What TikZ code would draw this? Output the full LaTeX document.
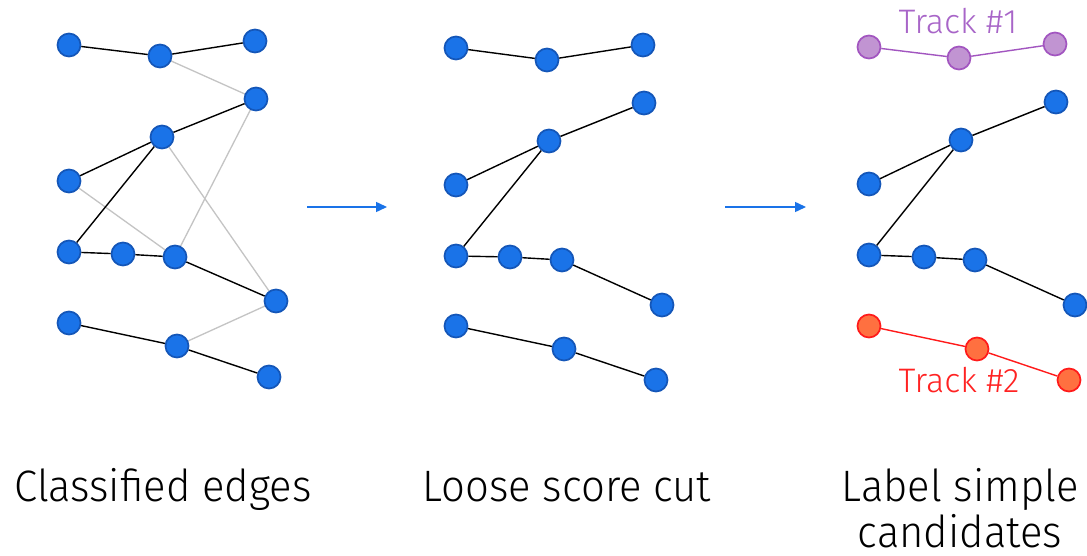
\documentclass[tikz,border=0pt]{standalone}
\usepackage{fontspec}
\setmainfont{Fira Sans}[UprightFont={* Light}]
\usetikzlibrary{arrows.meta}
\definecolor{nblue}{HTML}{1A73E8}
\definecolor{nblueb}{HTML}{1456B8}
\definecolor{npurp}{HTML}{C194D2}
\definecolor{npurpb}{HTML}{A255C0}
\definecolor{nred}{HTML}{FF7040}
\definecolor{nredb}{HTML}{FF1A1A}
\definecolor{tpurp}{HTML}{A865C8}
\definecolor{tred}{HTML}{FF2222}
\definecolor{gedge}{HTML}{C4C4C4}
\tikzset{
  hit/.style={circle,minimum size=23pt,inner sep=0pt,fill=nblue,draw=nblueb,line width=1.7pt},
  phit/.style={hit,fill=npurp,draw=npurpb},
  rhit/.style={hit,fill=nred,draw=nredb},
  good/.style={black,line width=1.4pt},
  bad/.style={gedge,line width=1.3pt},
  ptrk/.style={npurpb,line width=1.4pt},
  rtrk/.style={nredb,line width=1.4pt},
  flow/.style={nblue,line width=1.5pt,-{Triangle[length=11pt,width=10pt]}},
  captxt/.style={font=\fontsize{44}{50}\selectfont,inner sep=0pt,anchor=base,xscale=0.95,transform shape},
  tlab/.style={font=\fontsize{34}{38}\selectfont,inner sep=0pt,anchor=base,transform shape}
}
\begin{document}
\begin{tikzpicture}[x=1pt,y=-1pt]
\useasboundingbox[fill=white] (0,0) rectangle (1087,556);
% panel 1
\draw[bad] (160,56) -- (256,99) -- (175,257);
\draw[bad] (162,137) -- (276,301) -- (177,346);
\draw[bad] (69,181) -- (175,257);
\node[hit] (a1) at (69,45) {};
\node[hit] (a2) at (160,56) {};
\node[hit] (a3) at (255,41) {};
\node[hit] (b1) at (256,99) {};
\node[hit] (c1) at (162,137) {};
\node[hit] (d1) at (69,181) {};
\node[hit] (e1) at (69,252) {};
\node[hit] (e2) at (123,254) {};
\node[hit] (e3) at (175,257) {};
\node[hit] (f1) at (276,301) {};
\node[hit] (g1) at (69,323) {};
\node[hit] (g2) at (177,346) {};
\node[hit] (g3) at (269,377) {};
\draw[good] (a1) -- (a2) -- (a3);
\draw[good] (b1) -- (c1) -- (d1);
\draw[good] (c1) -- (e1) -- (e2) -- (e3) -- (f1);
\draw[good] (g1) -- (g2) -- (g3);
% panel 2
\node[hit] (pa1) at (456,48) {};
\node[hit] (pa2) at (547,60) {};
\node[hit] (pa3) at (643,45) {};
\node[hit] (pb1) at (644,103) {};
\node[hit] (pc1) at (549,141) {};
\node[hit] (pd1) at (456,185) {};
\node[hit] (pe1) at (456,256) {};
\node[hit] (pe2) at (510,257) {};
\node[hit] (pe3) at (562,260) {};
\node[hit] (pf1) at (662,305) {};
\node[hit] (pg1) at (456,326) {};
\node[hit] (pg2) at (564,349) {};
\node[hit] (pg3) at (656,380) {};
\draw[good] (pa1) -- (pa2) -- (pa3);
\draw[good] (pb1) -- (pc1) -- (pd1);
\draw[good] (pc1) -- (pe1) -- (pe2) -- (pe3) -- (pf1);
\draw[good] (pg1) -- (pg2) -- (pg3);
% panel 3
\node[phit] (qa1) at (869,47) {};
\node[phit] (qa2) at (959,58) {};
\node[phit] (qa3) at (1055,44) {};
\node[hit] (qb1) at (1056,102) {};
\node[hit] (qc1) at (961,140) {};
\node[hit] (qd1) at (869,184) {};
\node[hit] (qe1) at (869,255) {};
\node[hit] (qe2) at (924,257) {};
\node[hit] (qe3) at (975,260) {};
\node[hit] (qf1) at (1075,305) {};
\node[rhit] (qg1) at (869,326) {};
\node[rhit] (qg2) at (977,349) {};
\node[rhit] (qg3) at (1069,380) {};
\draw[ptrk] (qa1) -- (qa2) -- (qa3);
\draw[good] (qb1) -- (qc1) -- (qd1);
\draw[good] (qc1) -- (qe1) -- (qe2) -- (qe3) -- (qf1);
\draw[rtrk] (qg1) -- (qg2) -- (qg3);
\node[tlab,text=tpurp] (t1) at (958,34) {Track \#1};
\node[tlab,text=tred] (t2) at (959,392) {Track \#2};
% arrows
\coordinate (s1) at (307,207); \coordinate (e1a) at (387,207);
\coordinate (s2) at (725,207); \coordinate (e2a) at (806,207);
\draw[flow] (s1) -- (e1a);
\draw[flow] (s2) -- (e2a);
% captions
\node[captxt] (l1) at (163,501) {Classified edges};
\node[captxt] (l2) at (567,501) {Loose score cut};
\node[captxt] (l3) at (960,501) {Label simple};
\node[captxt] (l4) at (960,547) {candidates};
\end{tikzpicture}
\end{document}
